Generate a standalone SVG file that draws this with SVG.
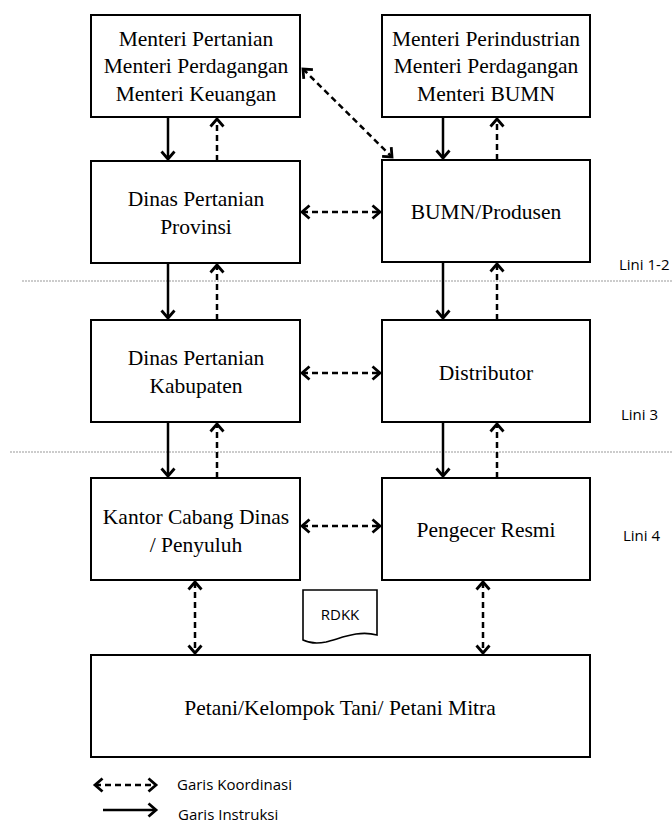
<svg xmlns="http://www.w3.org/2000/svg" width="672" height="827" viewBox="0 0 672 827">
<style>
.box{fill:#fff;stroke:#000;stroke-width:2}
.t{font-family:"Liberation Serif","Times New Roman",serif;font-size:21.5px;fill:#000;text-anchor:middle}
.s{font-family:"Open Sans","Liberation Sans",sans-serif;font-size:15px;fill:#000}
.solid{stroke:#000;stroke-width:2.5;fill:none;marker-end:url(#ah)}
.dash{stroke:#000;stroke-width:2.5;fill:none;stroke-dasharray:6 4;marker-end:url(#ah)}
.dash2{stroke:#000;stroke-width:2.5;fill:none;stroke-dasharray:6 4;marker-start:url(#ah);marker-end:url(#ah)}
.dot{stroke:#999;stroke-width:1;stroke-dasharray:2 1}
</style>
<defs>
<marker id="ah" markerUnits="userSpaceOnUse" markerWidth="20" markerHeight="20" viewBox="-10 -10 20 20" refX="0" refY="0" orient="auto-start-reverse">
<path d="M-7.5,-6.5 L0,0 L-7.5,6.5" fill="none" stroke="#000" stroke-width="2.8" stroke-dasharray="none"/>
</marker>
</defs>
<rect width="672" height="827" fill="#fff"/>
<g id="separators">
<line class="dot" x1="22" y1="281" x2="672" y2="281"/>
<line class="dot" x1="10" y1="452" x2="672" y2="452"/>
<text class="s" x="619" y="270">Lini 1-2</text>
<text class="s" x="621" y="420">Lini 3</text>
<text class="s" x="623" y="541">Lini 4</text>
</g>
<g id="connectors">
<line class="solid" x1="168" y1="117" x2="168" y2="159"/>
<line class="dash" x1="217" y1="161" x2="217" y2="119"/>
<line class="solid" x1="443" y1="117" x2="443" y2="158"/>
<line class="dash" x1="497" y1="160" x2="497" y2="119"/>
<line class="dash2" x1="303" y1="69" x2="392" y2="157"/>
<line class="dash2" x1="302" y1="212" x2="380" y2="212"/>
<line class="solid" x1="168" y1="263" x2="168" y2="318"/>
<line class="dash" x1="217" y1="320" x2="217" y2="265"/>
<line class="solid" x1="443" y1="262" x2="443" y2="318"/>
<line class="dash" x1="497" y1="320" x2="497" y2="264"/>
<line class="dash2" x1="302" y1="373" x2="380" y2="373"/>
<line class="solid" x1="168" y1="422" x2="168" y2="476"/>
<line class="dash" x1="217" y1="478" x2="217" y2="424"/>
<line class="solid" x1="443" y1="422" x2="443" y2="476"/>
<line class="dash" x1="497" y1="478" x2="497" y2="424"/>
<line class="dash2" x1="302" y1="526" x2="380" y2="526"/>
<line class="dash2" x1="195" y1="582" x2="195" y2="653"/>
<line class="dash2" x1="483" y1="582" x2="483" y2="653"/>
</g>
<g id="n-menteri1">
<rect class="box" x="91" y="15" width="209" height="102"/>
<text class="t" x="196" y="46">Menteri Pertanian</text>
<text class="t" x="196" y="73">Menteri Perdagangan</text>
<text class="t" x="196" y="101">Menteri Keuangan</text>
</g>
<g id="n-menteri2">
<rect class="box" x="382" y="15" width="208" height="102"/>
<text class="t" x="486" y="46">Menteri Perindustrian</text>
<text class="t" x="486" y="73">Menteri Perdagangan</text>
<text class="t" x="486" y="101">Menteri BUMN</text>
</g>
<g id="n-provinsi">
<rect class="box" x="91" y="161" width="209" height="102"/>
<text class="t" x="196" y="206">Dinas Pertanian</text>
<text class="t" x="196" y="234">Provinsi</text>
</g>
<g id="n-bumn">
<rect class="box" x="382" y="160" width="208" height="102"/>
<text class="t" x="486" y="219">BUMN/Produsen</text>
</g>
<g id="n-kabupaten">
<rect class="box" x="91" y="320" width="209" height="102"/>
<text class="t" x="196" y="365">Dinas Pertanian</text>
<text class="t" x="196" y="393">Kabupaten</text>
</g>
<g id="n-distributor">
<rect class="box" x="382" y="320" width="208" height="102"/>
<text class="t" x="486" y="380">Distributor</text>
</g>
<g id="n-kantor">
<rect class="box" x="91" y="478" width="209" height="102"/>
<text class="t" x="196" y="524">Kantor Cabang Dinas</text>
<text class="t" x="196" y="552">/ Penyuluh</text>
</g>
<g id="n-pengecer">
<rect class="box" x="382" y="478" width="208" height="102"/>
<text class="t" x="486" y="537">Pengecer Resmi</text>
</g>
<g id="n-rdkk">
<path d="M303,590 H377 V635 C358,630 342,638 326,642 C316,644 309,643 303,640 Z" fill="#fff" stroke="#000" stroke-width="1.6"/>
<text class="s" x="340" y="620" text-anchor="middle">RDKK</text>
</g>
<g id="n-petani">
<rect class="box" x="91" y="655" width="499" height="102"/>
<text class="t" x="340" y="715">Petani/Kelompok Tani/ Petani Mitra</text>
</g>
<g id="legend">
<line class="dash2" x1="95" y1="785" x2="156" y2="785"/>
<line class="solid" x1="103" y1="810" x2="156" y2="810"/>
<text class="s" x="177" y="790">Garis Koordinasi</text>
<text class="s" x="178" y="820">Garis Instruksi</text>
</g>
</svg>
